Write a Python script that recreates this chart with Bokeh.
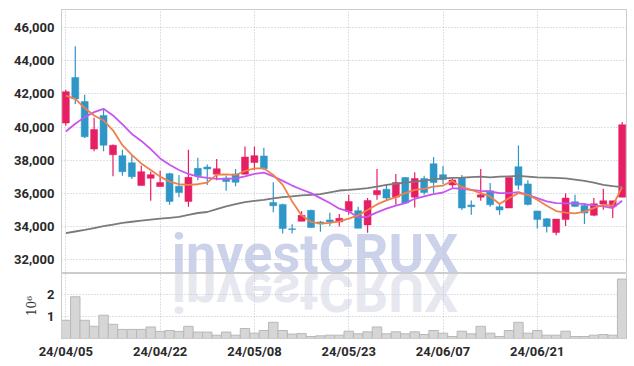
from bokeh.plotting import figure
from bokeh.layouts import column
from bokeh.models import Range1d, FixedTicker, ColumnDataSource, NumeralTickFormatter
from bokeh.embed import file_html
from bokeh.resources import INLINE

dates = ["24/04/05", "24/04/08", "24/04/09", "24/04/11", "24/04/12", "24/04/15", "24/04/16", "24/04/17",
         "24/04/18", "24/04/19", "24/04/22", "24/04/23", "24/04/24", "24/04/25", "24/04/26", "24/04/29",
         "24/04/30", "24/05/02", "24/05/03", "24/05/07", "24/05/08", "24/05/09", "24/05/10", "24/05/13",
         "24/05/14", "24/05/16", "24/05/17", "24/05/20", "24/05/21", "24/05/22", "24/05/23", "24/05/24",
         "24/05/27", "24/05/28", "24/05/29", "24/05/30", "24/05/31", "24/06/03", "24/06/04", "24/06/05",
         "24/06/07", "24/06/10", "24/06/11", "24/06/12", "24/06/13", "24/06/14", "24/06/17", "24/06/18",
         "24/06/19", "24/06/20", "24/06/21", "24/06/24", "24/06/25", "24/06/26", "24/06/27", "24/06/28",
         "24/07/01", "24/07/02", "24/07/03", "24/07/04"]

opens = [40240, 43000, 41540, 38670, 40700, 38320, 38270, 37840, 36460, 36900,
         36400, 37180, 36420, 35500, 37500, 37580, 37140, 36920, 37160, 37140,
         37860, 38250, 35440, 35320, 33840, 34300, 34960, 34260, 34380, 34260,
         34900, 34940, 34080, 35900, 36240, 35760, 36940, 35760, 36880, 37780,
         37120, 36500, 36940, 35280, 35760, 36140, 35180, 35100, 37600, 36560,
         34920, 34450, 33620, 34400, 35480, 35260, 34660, 35340, 35200, 35760]
highs = [42260, 44880, 41960, 40560, 41040, 38950, 38630, 38300, 37660, 37300,
         37360, 37240, 37100, 38630, 38140, 37740, 38060, 37050, 37460, 38820,
         38820, 38740, 36660, 35360, 34120, 34900, 35000, 34320, 34820, 34740,
         35900, 35180, 35700, 37460, 36500, 37160, 36960, 37260, 37060, 38180,
         37640, 36880, 37100, 35560, 37460, 36620, 35340, 36940, 38890, 36780,
         34920, 34500, 34430, 36000, 35900, 35400, 35700, 36260, 35540, 40300]
lows = [40080, 41400, 39330, 38530, 38530, 37030, 37050, 36850, 36460, 35540,
        36400, 35300, 35760, 35180, 36780, 36500, 36780, 36140, 36420, 37140,
        37400, 37400, 34840, 33560, 33560, 34300, 33920, 33660, 34020, 33980,
        34700, 33880, 33600, 35600, 35560, 35300, 35400, 35140, 35900, 36000,
        36540, 36340, 34980, 34700, 35540, 35180, 34700, 35100, 36200, 35260,
        33860, 33620, 33460, 34020, 35200, 34140, 34600, 35000, 34500, 35760]
closes = [42140, 41700, 39410, 39850, 38900, 38900, 37300, 37000, 37300, 37120,
          36640, 35500, 36040, 36960, 37060, 37460, 37480, 36700, 36660, 38180,
          38270, 37480, 35240, 33860, 33800, 34660, 33920, 34140, 34260, 34480,
          35500, 33880, 35560, 36160, 35700, 36640, 35400, 36880, 36040, 36640,
          36820, 36800, 35100, 35180, 35900, 35300, 34980, 36940, 36480, 35320,
          34400, 33980, 34430, 35700, 35200, 34800, 35360, 35540, 35540, 40140]
volumes = [0.82e6, 1.88e6, 0.82e6, 0.55e6, 1.05e6, 0.64e6, 0.41e6, 0.41e6, 0.41e6, 0.52e6,
           0.32e6, 0.36e6, 0.32e6, 0.55e6, 0.29e6, 0.29e6, 0.15e6, 0.29e6, 0.15e6, 0.45e6,
           0.24e6, 0.36e6, 0.73e6, 0.36e6, 0.20e6, 0.22e6, 0.09e6, 0.12e6, 0.15e6, 0.15e6,
           0.33e6, 0.21e6, 0.30e6, 0.52e6, 0.21e6, 0.30e6, 0.21e6, 0.30e6, 0.18e6, 0.36e6,
           0.24e6, 0.09e6, 0.33e6, 0.21e6, 0.55e6, 0.24e6, 0.09e6, 0.36e6, 0.73e6, 0.24e6,
           0.36e6, 0.15e6, 0.15e6, 0.33e6, 0.09e6, 0.09e6, 0.15e6, 0.18e6, 0.15e6, 2.68e6]
ma5 = [41900, 41700, 41150, 40700, 40400, 39800, 38900, 38320, 37800, 37400,
       37000, 36700, 36540, 36500, 36540, 36640, 37120, 37140, 37100, 37340,
       37500, 37500, 37100, 36500, 35500, 34660, 34260, 34160, 34200, 34300,
       34460, 34660, 34980, 35320, 35560, 35760, 36000, 36200, 36260, 36400,
       36460, 36740, 36360, 36200, 36000, 35800, 35340, 35700, 36000, 35900,
       35600, 35240, 34920, 34820, 34780, 34880, 35100, 35300, 35240, 36360]
ma20 = [39730, 40200, 40600, 40900, 41100, 40700, 40160, 39580, 39160, 38670,
        38100, 37720, 37400, 37160, 37000, 36920, 36860, 36860, 36900, 37020,
        37160, 37240, 37020, 36740, 36460, 36220, 36000, 35700, 35400, 35060,
        34900, 34520, 34580, 34840, 35060, 35240, 35400, 35660, 35800, 35940,
        36040, 36300, 36260, 36200, 36140, 36100, 36000, 36000, 36060, 35900,
        35700, 35500, 35400, 35380, 35380, 35340, 35260, 35200, 35100, 35540]
ma60 = [33580, 33680, 33780, 33890, 34000, 34100, 34200, 34270, 34340, 34400,
        34460, 34510, 34560, 34680, 34800, 34860, 35030, 35200, 35330, 35460,
        35530, 35600, 35680, 35760, 35810, 35860, 35900, 35940, 36050, 36160,
        36200, 36250, 36300, 36400, 36500, 36570, 36640, 36700, 36760, 36830,
        36900, 36920, 36940, 36970, 37000, 36960, 37000, 37020, 37040, 37000,
        36960, 36940, 36920, 36900, 36820, 36740, 36640, 36500, 36420, 36360]

price_ticks = [32000, 34000, 36000, 38000, 40000, 42000, 44000, 46000]
date_ticks = [0, 10, 20, 30, 40, 50]
vol_ticks = [1e6, 2e6]
watermark = "investCRUX"

UP = "#e61e64"
DOWN = "#2f96c8"
GRID = "#bfc3d4"
FONT = "Roboto"

idx = list(range(len(dates)))
colors = [UP if c >= o else DOWN for o, c in zip(opens, closes)]
body_top = [max(o, c) for o, c in zip(opens, closes)]
body_bot = [min(o, c) for o, c in zip(opens, closes)]
src = ColumnDataSource(dict(x=idx, o=opens, h=highs, l=lows, c=closes, top=body_top,
                            bot=body_bot, color=colors, vol=volumes,
                            ma5=ma5, ma20=ma20, ma60=ma60))

xr = Range1d(-0.46, 59.46)


def style_axis(ax, standoff):
    ax.major_tick_line_color = None
    ax.minor_tick_line_color = None
    ax.major_tick_out = 0
    ax.major_tick_in = 0
    ax.minor_tick_out = 0
    ax.minor_tick_in = 0
    ax.axis_line_color = "#cccccc"
    ax.major_label_text_font = FONT
    ax.major_label_text_font_size = "13px"
    ax.major_label_text_font_style = "bold"
    ax.major_label_text_color = "#2a2a2a"
    ax.major_label_standoff = standoff


def style_grid(fig):
    for g in (fig.xgrid, fig.ygrid):
        g.grid_line_color = GRID
        g.grid_line_dash = "1 2"
        g.grid_line_width = 1


p = figure(width=627, height=273, x_range=xr, y_range=Range1d(31140, 47110),
           output_backend="svg", toolbar_location=None,
           min_border_left=61, min_border_right=1, min_border_top=9, min_border_bottom=0,
           background_fill_color=None, border_fill_color=None)
p.xaxis.visible = False
p.outline_line_color = "#cccccc"
p.yaxis.ticker = FixedTicker(ticks=price_ticks)
p.yaxis.formatter = NumeralTickFormatter(format="0,0")
style_axis(p.yaxis[0], 7)
p.xgrid.ticker = FixedTicker(ticks=date_ticks)
style_grid(p)

p.segment(x0="x", y0="l", x1="x", y1="h", color="color", line_width=1.2, source=src)
p.vbar(x="x", width=0.74, top="top", bottom="bot", fill_color="color", line_color="color",
       line_width=0.5, source=src)
p.line(x="x", y="ma60", color="#7a7a7a", line_width=1.8, source=src)
p.line(x="x", y="ma20", color="#c855ee", line_width=1.8, source=src)
p.line(x="x", y="ma5", color="#f0804a", line_width=1.8, source=src)

v = figure(width=627, height=92, x_range=xr, y_range=Range1d(0, 2.93e6),
           output_backend="svg", toolbar_location=None,
           min_border_left=61, min_border_right=1, min_border_top=0, min_border_bottom=27,
           background_fill_color=None, border_fill_color=None)
v.outline_line_color = "#cccccc"
v.vbar(x="x", width=1.0, top="vol", bottom=0, fill_color="#d6d6d6", line_color="#b8b8b8",
       line_width=1, source=src)
v.xaxis.ticker = FixedTicker(ticks=date_ticks)
v.xaxis.major_label_overrides = {t: dates[t] for t in date_ticks}
style_axis(v.xaxis[0], 5)
v.yaxis.ticker = FixedTicker(ticks=vol_ticks)
v.yaxis.major_label_overrides = {1e6: "1", 2e6: "2", 1000000: "1", 2000000: "2"}
style_axis(v.yaxis[0], 7)
v.yaxis.axis_label = "10\u2076"
v.yaxis.axis_label_text_font = "DejaVu Serif"
v.yaxis.axis_label_text_font_style = "normal"
v.yaxis.axis_label_text_font_size = "12px"
v.yaxis.axis_label_text_color = "#333333"
v.yaxis.axis_label_standoff = 5
v.xgrid.ticker = FixedTicker(ticks=date_ticks)
style_grid(v)

layout = column(p, v)

# watermark and its mirror image, drawn behind the (transparent) plots
overlay = ('<svg style="position:absolute;left:0;top:0;z-index:-1;pointer-events:none" '
           'width="634" height="366">'
           '<text x="315" y="272" text-anchor="middle" font-family="Roboto" font-weight="bold" '
           'font-size="54px" fill="#ccd2e9">' + watermark + '</text>'
           '<text x="315" y="272" text-anchor="middle" transform="translate(0,546) scale(1,-1)" '
           'font-family="Roboto" font-weight="bold" font-size="54px" fill="#e6e7ef">' + watermark +
           '</text></svg>')
html = file_html(layout, INLINE)
html = html.replace("</body>", overlay + "</body>")
open("out.html", "w").write(html)
